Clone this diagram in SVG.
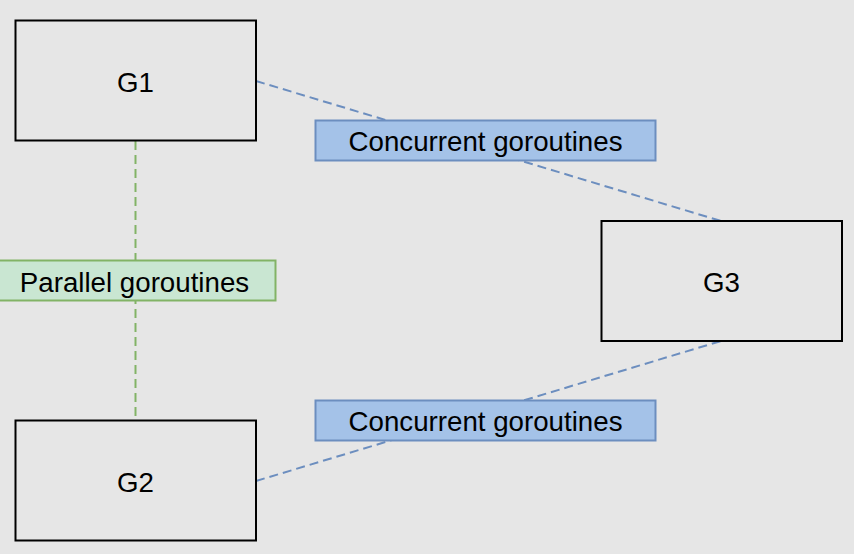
<svg xmlns="http://www.w3.org/2000/svg" width="854" height="554" viewBox="0 0 854 554">
<style>
.bg{fill:#e6e6e6}
.node rect{fill:#e6e6e6;stroke:#000;stroke-width:2}
text{font-family:"Liberation Sans",Arial,sans-serif;font-size:27.7px;fill:#000;text-anchor:middle}
.blue{stroke:#6c8ebf;stroke-width:2;stroke-dasharray:9 5;fill:none}
.green{stroke:#82b366;stroke-width:2;stroke-dasharray:9 5;fill:none}
.lblB rect{fill:#a4c2e8;stroke:#6c8ebf;stroke-width:2}
.lblG rect{fill:#c9e6d2;stroke:#82b366;stroke-width:2}
</style>
<rect class="bg" x="0" y="0" width="854" height="554"/>
<g id="connectors">
<line class="blue" x1="256" y1="81" x2="721" y2="221"/>
<line class="blue" x1="256" y1="481" x2="721" y2="341"/>
<line class="green" x1="135.5" y1="141" x2="135.5" y2="421"/>
</g>
<g id="G1" class="node"><rect x="15.5" y="20.5" width="240.5" height="120"/><text x="135.5" y="92">G1</text></g>
<g id="G2" class="node"><rect x="15.5" y="420.5" width="240.5" height="120"/><text x="135.5" y="492">G2</text></g>
<g id="G3" class="node"><rect x="601.5" y="221" width="240.5" height="120"/><text x="721.5" y="292">G3</text></g>
<g id="label-concurrent-1" class="lblB"><rect x="315.5" y="120.5" width="340" height="40"/><text x="485.5" y="150.5">Concurrent goroutines</text></g>
<g id="label-concurrent-2" class="lblB"><rect x="315.5" y="400.5" width="340" height="40"/><text x="485.5" y="430.5">Concurrent goroutines</text></g>
<g id="label-parallel" class="lblG"><rect x="-1" y="260.5" width="276.5" height="40"/><text x="134.5" y="291.5">Parallel goroutines</text></g>
</svg>
